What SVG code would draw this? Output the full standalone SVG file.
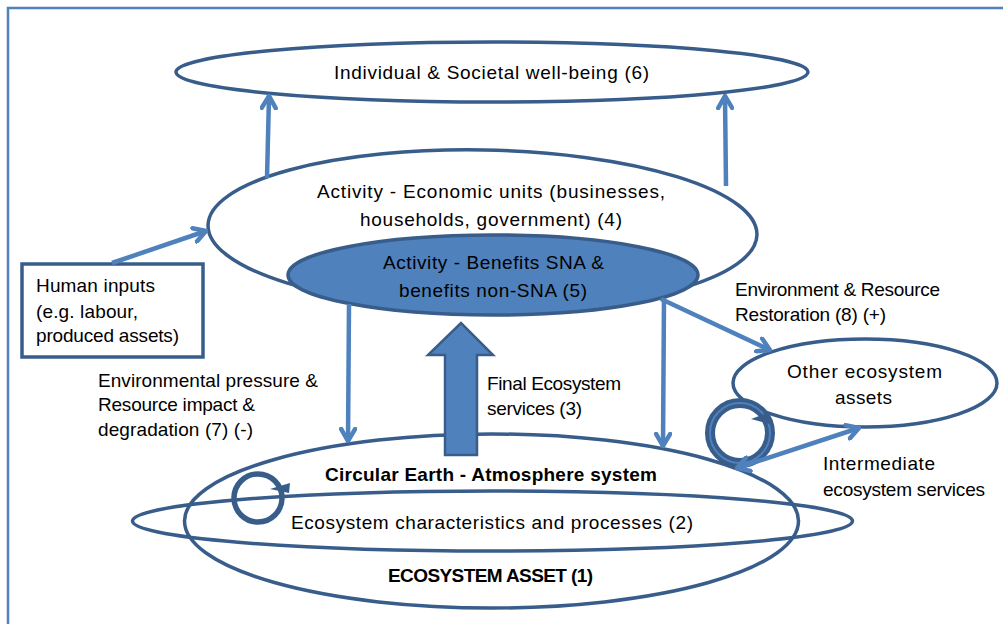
<svg xmlns="http://www.w3.org/2000/svg" width="1003" height="624" viewBox="0 0 1003 624">
<style>
.t{font-family:"Liberation Sans",Arial,sans-serif;font-size:19px;fill:#000}
.b{font-weight:bold}
.m{text-anchor:middle}
.ol{fill:none;stroke:#385d8a;stroke-width:3.5}
.ow{fill:#fff;stroke:#385d8a;stroke-width:3.5}
.ar{fill:none;stroke:#4f81bd;stroke-width:4.5}
</style>
<defs>
<marker id="ah" viewBox="0 0 16 18" refX="14" refY="9" markerWidth="16" markerHeight="18" markerUnits="userSpaceOnUse" orient="auto-start-reverse">
<path d="M2,2 L14,9 L2,16" fill="none" stroke="#4f81bd" stroke-width="4.5" stroke-linecap="round"/>
</marker>
</defs>
<rect width="1003" height="624" fill="#fff"/>
<rect x="8" y="8" width="1100" height="700" fill="none" stroke="#4f81bd" stroke-width="2.5"/>

<g id="wellbeing">
<ellipse class="ow" cx="492" cy="72" rx="316" ry="30"/>
<text class="t m" x="491.5" y="79" textLength="315">Individual &amp; Societal well-being (6)</text>
</g>

<g id="economic-units">
<ellipse class="ow" cx="482.5" cy="230" rx="274.5" ry="80" transform="rotate(1 482.5 230)"/>
<text class="t m" x="491" y="198" textLength="348">Activity - Economic units (businesses,</text>
<text class="t m" x="491" y="226" textLength="262">households, government) (4)</text>
</g>

<g id="benefits">
<ellipse cx="493" cy="275" rx="205" ry="40" fill="#4f81bd" stroke="#385d8a" stroke-width="3.5"/>
<text class="t m" x="493.5" y="269" textLength="221">Activity - Benefits SNA &amp;</text>
<text class="t m" x="493" y="297" textLength="188">benefits non-SNA (5)</text>
</g>

<g id="human-inputs">
<rect class="ow" x="22" y="264" width="181" height="93"/>
<text class="t" x="36" y="292" textLength="119">Human inputs</text>
<text class="t" x="36" y="318" textLength="102">(e.g. labour,</text>
<text class="t" x="36" y="342" textLength="143">produced assets)</text>
</g>

<g id="other-assets">
<ellipse class="ow" cx="865" cy="383" rx="132" ry="44"/>
<text class="t m" x="864.5" y="378" textLength="155">Other ecosystem</text>
<text class="t m" x="863.5" y="404" textLength="57">assets</text>
</g>

<g id="ecosystem-asset">
<ellipse class="ol" cx="491.5" cy="521" rx="307" ry="87"/>
<ellipse class="ol" cx="492.5" cy="521" rx="360" ry="30"/>
<text class="t b m" x="491" y="481" textLength="332">Circular Earth - Atmosphere system</text>
<text class="t" x="291" y="529" textLength="402">Ecosystem characteristics and processes (2)</text>
<text class="t b m" x="490.5" y="582" textLength="205">ECOSYSTEM ASSET (1)</text>
</g>

<g id="labels">
<text class="t" x="98" y="387" textLength="220">Environmental pressure &amp;</text>
<text class="t" x="98" y="411" textLength="157">Resource impact &amp;</text>
<text class="t" x="98" y="436" textLength="155">degradation (7) (-)</text>
<text class="t" x="487" y="390" textLength="134">Final Ecosystem</text>
<text class="t" x="487" y="415" textLength="95">services (3)</text>
<text class="t" x="735" y="296" textLength="205">Environment &amp; Resource</text>
<text class="t" x="735" y="321" textLength="151">Restoration (8) (+)</text>
<text class="t" x="823" y="470" textLength="112">Intermediate</text>
<text class="t" x="823" y="496" textLength="162">ecosystem services</text>
</g>

<g id="connectors">
<line class="ar" x1="267" y1="178" x2="269" y2="96" marker-end="url(#ah)"/>
<line class="ar" x1="726" y1="186" x2="725" y2="96" marker-end="url(#ah)"/>
<line class="ar" x1="112" y1="263" x2="206" y2="231" marker-end="url(#ah)"/>
<line class="ar" x1="349" y1="304" x2="348" y2="441" marker-end="url(#ah)"/>
<line class="ar" x1="664" y1="298" x2="663" y2="446" marker-end="url(#ah)"/>
<line class="ar" x1="661" y1="299" x2="770" y2="350" marker-end="url(#ah)"/>
<polygon points="445,455 477,455 477,355 493,355 461,323 428,355 445,355" fill="#4f81bd" stroke="#385d8a" stroke-width="2.5" stroke-linejoin="miter"/>
<circle cx="740" cy="433" r="30" fill="none" stroke="#385d8a" stroke-width="10"/>
<circle cx="740" cy="433" r="30" fill="none" stroke="#4f81bd" stroke-width="2"/>
<polygon points="751,419 770,412 770,424" fill="#385d8a"/>
<line class="ar" x1="737" y1="468" x2="859" y2="428" marker-start="url(#ah)" marker-end="url(#ah)"/>
<circle cx="258" cy="498" r="24" fill="none" stroke="#385d8a" stroke-width="5.5"/>
<polygon points="270,489 290,483 289,493" fill="#385d8a"/>
</g>
</svg>
